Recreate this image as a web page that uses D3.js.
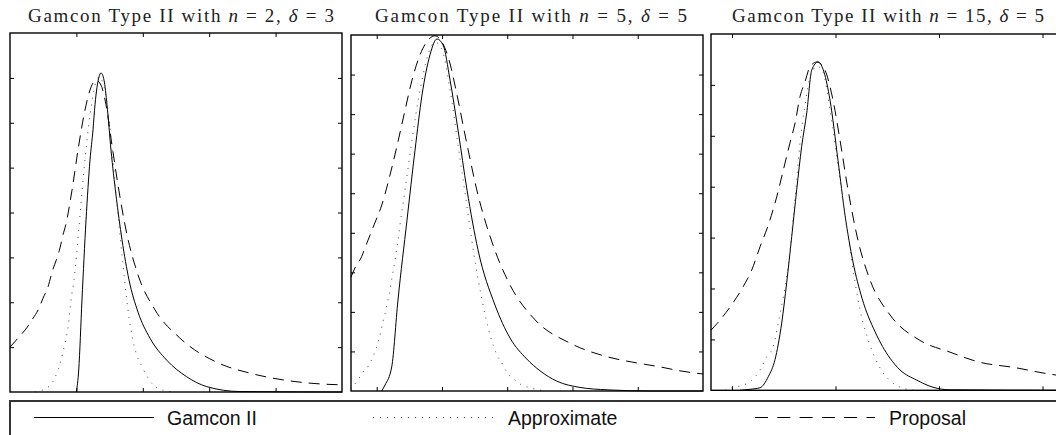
<!DOCTYPE html>
<html>
<head>
<meta charset="utf-8">
<script src="https://cdn.jsdelivr.net/npm/d3@7"></script>
<style>
  body { margin: 0; background: #fff; }
  svg { display: block; }
</style>
</head>
<body>
<div id="chart"></div>
<script>
// panel titles
const titleN = [2, 5, 15];
const titleDelta = [3, 5, 5];
const seriesNames = ["Gamcon II", "Approximate", "Proposal"];

// panel 1  (n = 2, delta = 3)
const gamcon1 = [[1.0,0],[1.035,0.049],[1.084,0.205],[1.145,0.383],[1.205,0.517],[1.25,0.584],[1.28,0.64],[1.34,0.702],[1.37,0.711],[1.416,0.695],[1.461,0.64],[1.521,0.539],[1.596,0.439],[1.687,0.339],[1.792,0.25],[1.928,0.178],[2.108,0.12],[2.36,0.071],[2.661,0.034],[2.962,0.012],[3.464,0.001],[5,0]];
const approx1 = [[0.377,0],[0.527,0.007],[0.633,0.02],[0.727,0.051],[0.768,0.071],[0.828,0.109],[0.878,0.149],[0.919,0.205],[0.964,0.25],[1.005,0.31],[1.039,0.368],[1.114,0.495],[1.205,0.617],[1.28,0.684],[1.34,0.702],[1.4,0.689],[1.476,0.628],[1.551,0.517],[1.627,0.394],[1.702,0.283],[1.777,0.183],[1.867,0.105],[2.0,0.053],[2.154,0.016],[2.304,0.004],[2.485,0]];
const proposal1 = [[0,0.1],[0.12,0.12],[0.252,0.143],[0.342,0.163],[0.437,0.187],[0.497,0.209],[0.572,0.234],[0.633,0.267],[0.708,0.299],[0.753,0.321],[0.794,0.348],[0.839,0.372],[0.934,0.45],[1.024,0.539],[1.114,0.617],[1.205,0.673],[1.295,0.695],[1.37,0.684],[1.446,0.64],[1.536,0.55],[1.627,0.461],[1.747,0.361],[1.928,0.261],[2.184,0.183],[2.56,0.12],[3.133,0.065],[3.614,0.042],[4.111,0.027],[4.669,0.018],[5.0,0.016]];

// panel 2  (n = 5, delta = 5)
const gamcon2 = [[0.077,0],[0.127,0.015],[0.23,0.061],[0.326,0.23],[0.464,0.432],[0.587,0.609],[0.694,0.748],[0.817,0.85],[0.924,0.89],[1.016,0.875],[1.124,0.786],[1.246,0.66],[1.384,0.508],[1.552,0.357],[1.813,0.217],[2.043,0.134],[2.299,0.081],[2.503,0.051],[2.759,0.025],[3.116,0.009],[3.53,0.003],[4.19,0],[5.0,0]];
const approx2 = [[-0.394,0.004],[-0.379,0.008],[-0.287,0.028],[-0.21,0.048],[-0.129,0.063],[-0.067,0.083],[-0.015,0.104],[0.025,0.126],[0.061,0.149],[0.092,0.172],[0.123,0.192],[0.153,0.215],[0.178,0.235],[0.204,0.255],[0.224,0.276],[0.25,0.301],[0.276,0.326],[0.296,0.349],[0.337,0.394],[0.357,0.42],[0.434,0.508],[0.541,0.635],[0.664,0.761],[0.786,0.85],[0.894,0.882],[1.001,0.862],[1.124,0.761],[1.246,0.622],[1.369,0.483],[1.491,0.344],[1.614,0.23],[1.736,0.142],[1.844,0.091],[1.936,0.066],[1.992,0.048],[2.119,0.028],[2.222,0.015],[2.349,0.008],[2.579,0]];
const proposal2 = [[-0.394,0.288],[-0.333,0.311],[-0.23,0.34],[-0.179,0.362],[-0.103,0.394],[-0.041,0.42],[0.077,0.47],[0.193,0.539],[0.296,0.609],[0.418,0.698],[0.541,0.786],[0.664,0.85],[0.786,0.887],[0.894,0.898],[1.001,0.882],[1.108,0.837],[1.231,0.748],[1.369,0.635],[1.552,0.496],[1.782,0.369],[2.043,0.268],[2.426,0.18],[2.962,0.121],[3.498,0.088],[3.985,0.071],[4.34,0.061],[4.647,0.051],[5.0,0.043]];

// panel 3  (n = 15, delta = 5)
const gamcon3 = [[0.077,0],[0.174,0.002],[0.271,0.005],[0.351,0.027],[0.415,0.06],[0.48,0.132],[0.528,0.211],[0.577,0.302],[0.625,0.394],[0.673,0.479],[0.722,0.545],[0.77,0.629],[0.831,0.645],[0.889,0.625],[0.947,0.57],[1.024,0.452],[1.092,0.344],[1.169,0.252],[1.256,0.181],[1.382,0.115],[1.527,0.063],[1.623,0.04],[1.785,0.02],[1.942,0.006],[2.106,0.001],[3.198,0]];
const approx3 = [[-0.068,0],[-0.003,0.005],[0.045,0.007],[0.174,0.017],[0.271,0.04],[0.335,0.066],[0.399,0.086],[0.447,0.132],[0.496,0.184],[0.528,0.223],[0.56,0.276],[0.592,0.341],[0.625,0.413],[0.657,0.486],[0.705,0.56],[0.754,0.614],[0.821,0.637],[0.879,0.625],[0.947,0.551],[1.043,0.413],[1.14,0.276],[1.237,0.158],[1.333,0.089],[1.43,0.044],[1.543,0.016],[1.64,0.005],[1.768,0]];
const proposal3 = [[-0.203,0.118],[-0.116,0.138],[0.01,0.172],[0.106,0.203],[0.19,0.236],[0.271,0.282],[0.351,0.325],[0.432,0.38],[0.496,0.433],[0.56,0.486],[0.609,0.525],[0.657,0.577],[0.705,0.606],[0.754,0.636],[0.821,0.645],[0.889,0.633],[0.976,0.57],[1.043,0.492],[1.121,0.394],[1.217,0.295],[1.333,0.217],[1.527,0.148],[1.816,0.098],[2.106,0.075],[2.377,0.056],[2.751,0.044],[3.005,0.034],[3.198,0.028]];

const W = 1056, H = 435;

// subplot boxes, a bit uneven like the original figure
const panels = [
  { box: [10, 33, 342, 392], xDom: [0, 5], yDom: [0, 0.8], xTicks: [1, 2, 3, 4], data: [gamcon1, approx1, proposal1], titleX: 181 },
  { box: [351, 35, 703, 391], xDom: [-0.394, 5.0], yDom: [0, 0.9], xTicks: [0, 1, 2, 3, 4], data: [gamcon2, approx2, proposal2], titleX: 531 },
  { box: [711, 34, 1063, 390.3], xDom: [-0.203, 3.198], yDom: [0, 0.7], xTicks: [0, 1, 2, 3], data: [gamcon3, approx3, proposal3], titleX: 888 }
];

const styles = [
  { dash: null, color: "#000" },
  { dash: "1,6", color: "#444" },
  { dash: "11,7", color: "#000" }
];

const svg = d3.select("#chart").append("svg")
  .attr("width", W)
  .attr("height", H);

panels.forEach((p, i) => {
  const [l, t, r, b] = p.box;
  const x = d3.scaleLinear().domain(p.xDom).range([l, r]);
  const y = d3.scaleLinear().domain(p.yDom).range([b, t]);
  const g = svg.append("g");

  // ticks on all four sides, pointing inwards
  const yTicks = d3.range(1, Math.round(p.yDom[1] * 10)).map(k => k / 10);
  g.append("g").attr("transform", `translate(0,${b})`)
    .call(d3.axisBottom(x).tickValues(p.xTicks).tickSize(-4).tickFormat(""));
  g.append("g").attr("transform", `translate(0,${t})`)
    .call(d3.axisTop(x).tickValues(p.xTicks).tickSize(-4).tickFormat(""));
  g.append("g").attr("transform", `translate(${l},0)`)
    .call(d3.axisLeft(y).tickValues(yTicks).tickSize(-4).tickFormat(""));
  g.append("g").attr("transform", `translate(${r},0)`)
    .call(d3.axisRight(y).tickValues(yTicks).tickSize(-4).tickFormat(""));
  g.selectAll(".domain").remove();
  g.selectAll(".tick line").attr("stroke", "#000").attr("stroke-width", 1);

  const line = d3.line()
    .x(d => x(d[0]))
    .y(d => y(d[1]))
    .curve(d3.curveMonotoneX);

  p.data.forEach((s, j) => {
    g.append("path")
      .datum(s)
      .attr("d", line)
      .attr("fill", "none")
      .attr("stroke", styles[j].color)
      .attr("stroke-width", 1)
      .attr("stroke-dasharray", styles[j].dash);
  });

  g.append("rect")
    .attr("x", l).attr("y", t)
    .attr("width", r - l).attr("height", b - t)
    .attr("fill", "none")
    .attr("stroke", "#000")
    .attr("stroke-width", 1.4);

  const title = svg.append("text")
    .attr("x", p.titleX)
    .attr("y", 22)
    .attr("text-anchor", "middle")
    .attr("textLength", i === 0 ? 306 : 312)
    .attr("lengthAdjust", "spacing")
    .style("font-family", "'Liberation Serif', 'DejaVu Serif', serif")
    .style("font-size", "19px")
    .attr("fill", "#222");
  title.append("tspan").text("Gamcon Type II with ");
  title.append("tspan").style("font-style", "italic").text("n");
  title.append("tspan").text(" = " + titleN[i] + ", ");
  title.append("tspan").style("font-style", "italic").text("δ");
  title.append("tspan").text(" = " + titleDelta[i]);
});

// legend strip
const legend = svg.append("g");
legend.append("rect")
  .attr("x", 10).attr("y", 401)
  .attr("width", 1080).attr("height", 60)
  .attr("fill", "#fff")
  .attr("stroke", "#333")
  .attr("stroke-width", 2);

const legX = [34, 373, 755];
const legTextX = [167, 508, 889];
seriesNames.forEach((name, j) => {
  legend.append("line")
    .attr("x1", legX[j]).attr("x2", legX[j] + 120)
    .attr("y1", 417.5).attr("y2", 417.5)
    .attr("stroke", styles[j].color)
    .attr("stroke-width", 1)
    .attr("stroke-dasharray", j === 2 ? "13,9.3" : styles[j].dash);
  legend.append("text")
    .attr("x", legTextX[j])
    .attr("y", 425)
    .style("font-family", "'Liberation Sans', Arial, sans-serif")
    .style("font-size", "19.5px")
    .attr("fill", "#111")
    .text(name);
});
</script>
</body>
</html>
